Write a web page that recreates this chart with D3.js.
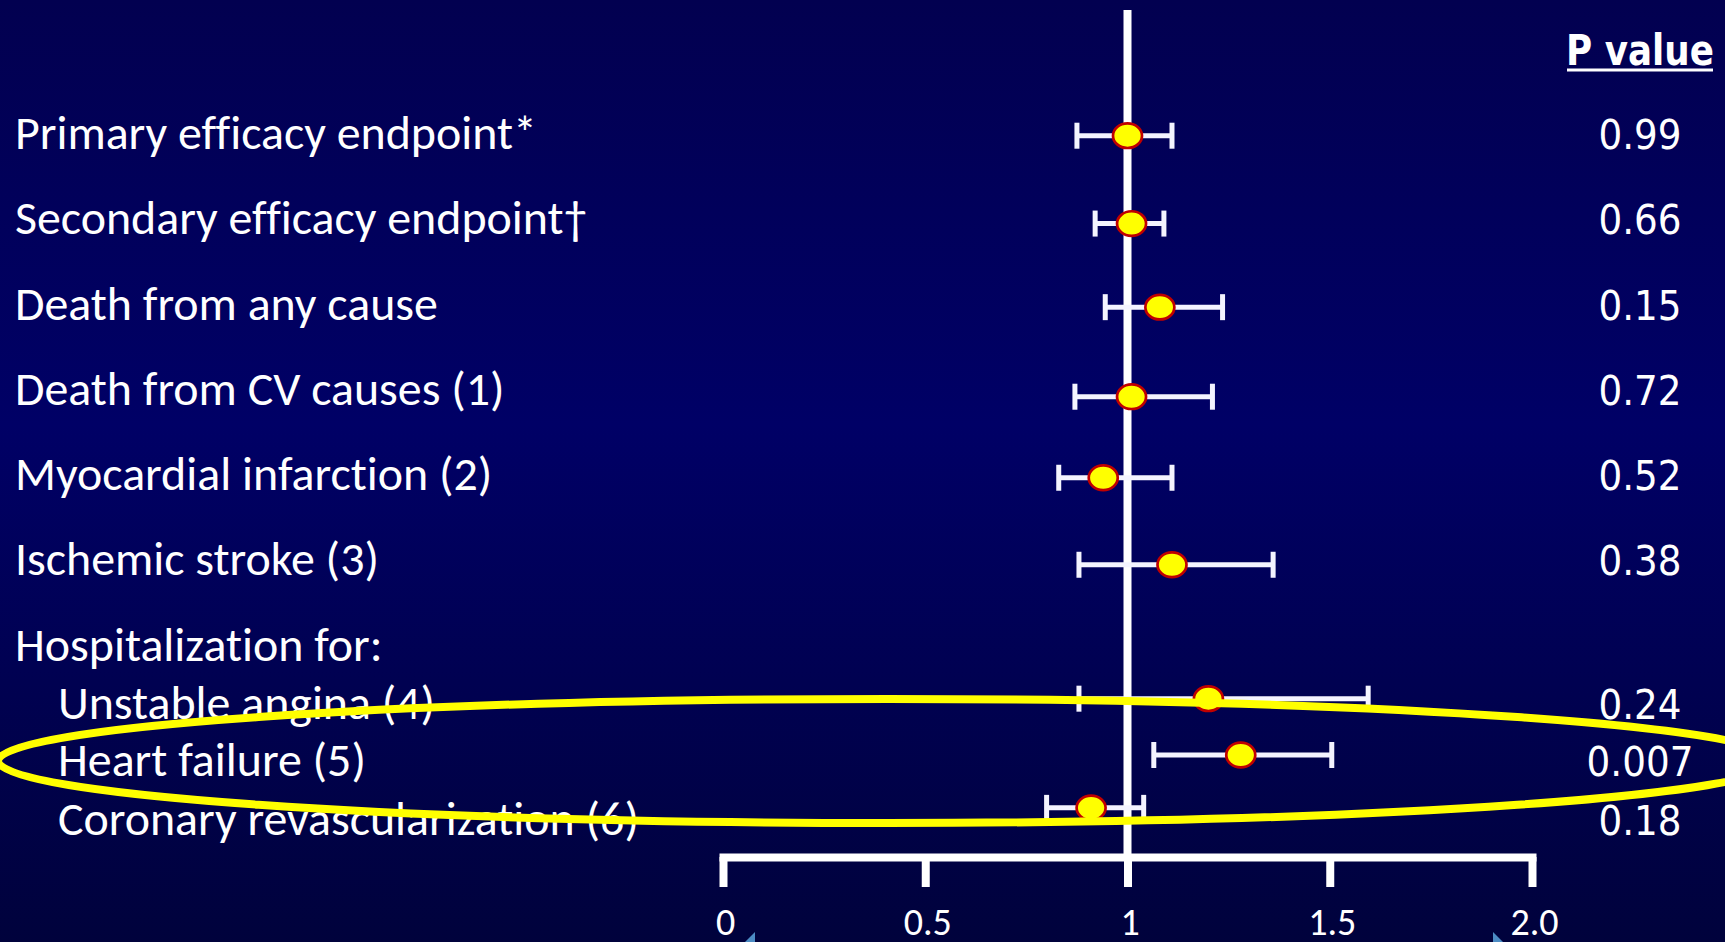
<!DOCTYPE html>
<html>
<head>
<meta charset="utf-8">
<script src="https://cdn.jsdelivr.net/npm/d3@7"></script>
<style>
  html, body { margin: 0; padding: 0; overflow: hidden; background: #000055; }
  svg { display: block; }
  text { font-variant-ligatures: none; }
</style>
</head>
<body>
<svg id="chart" width="1725" height="942"></svg>
<script>
// --- data ---
var labels = ["Primary efficacy endpoint*", "Secondary efficacy endpoint\u2020", "Death from any cause",
    "Death from CV causes (1)", "Myocardial infarction (2)", "Ischemic stroke (3)",
    "Unstable angina (4)", "Heart failure (5)", "Coronary revascularization (6)"];
var indented = [false, false, false, false, false, false, true, true, true];
var hazard = [1.00, 1.01, 1.08, 1.01, 0.94, 1.11, 1.20, 1.28, 0.91];
var lower  = [0.875, 0.92, 0.945, 0.87, 0.83, 0.88, 0.88, 1.065, 0.80];
var upper  = [1.11, 1.09, 1.235, 1.21, 1.11, 1.36, 1.595, 1.505, 1.04];
var pValues = ["0.99", "0.66", "0.15", "0.72", "0.52", "0.38", "0.24", "0.007", "0.18"];
var groupHeader = "Hospitalization for:";
var pHeader = "P value";
var xTicks = [0, 0.5, 1, 1.5, 2];
var xTickLabels = ["0", "0.5", "1", "1.5", "2.0"];
var highlighted = [6, 7, 8]; // rows circled in yellow

// row slots (layout): text rows and marker rows
var textSlot   = [0, 1, 2, 3, 4, 5, 6.68, 7.35, 8.04];
var markerSlot = [0.02, 1.05, 2.03, 3.08, 4.03, 5.05, 6.62, 7.28, 7.9];
var headerSlot = 6;

var rows = labels.map(function (d, i) {
    return {label: d, indent: indented[i], hr: hazard[i], lo: lower[i], hi: upper[i],
            p: pValues[i], ts: textSlot[i], ms: markerSlot[i]};
});

var svg = d3.select("#chart"),
    width = +svg.attr("width"),
    height = +svg.attr("height");

var labelFont = "Carlito, Calibri, 'Liberation Sans Narrow', 'Open Sans', sans-serif";
var pFont = "'DejaVu Sans', Verdana, sans-serif";

// background gradient
var defs = svg.append("defs");
var bg = defs.append("linearGradient").attr("id", "bg")
    .attr("x1", 0).attr("y1", 0).attr("x2", 0).attr("y2", 1);
bg.append("stop").attr("offset", "0%").attr("stop-color", "#020050");
bg.append("stop").attr("offset", "45%").attr("stop-color", "#000066");
bg.append("stop").attr("offset", "100%").attr("stop-color", "#00023c");
svg.append("rect").attr("width", width).attr("height", height).attr("fill", "url(#bg)");

// scales
var x = d3.scaleLinear().domain([0, 2]).range([723, 1532]);
var y = d3.scaleLinear().domain([0, 1]).range([134, 219.3]); // slot -> row centre
var axisY = 857;

// reference line at 1
svg.append("line")
    .attr("x1", x(1)).attr("x2", x(1))
    .attr("y1", 10).attr("y2", axisY)
    .attr("stroke", "#fff").attr("stroke-width", 8);

// x axis
var axis = svg.append("g")
    .attr("transform", "translate(0," + axisY + ")")
    .call(d3.axisBottom(x).tickValues(xTicks)
        .tickFormat(function (d, i) { return xTickLabels[i]; })
        .tickSize(30).tickSizeOuter(0));
axis.select(".domain").attr("stroke", "#fff").attr("stroke-width", 8)
    .attr("stroke-linecap", "square");
axis.selectAll(".tick line").attr("stroke", "#fff").attr("stroke-width", 8);
axis.selectAll(".tick text")
    .attr("fill", "#fff").attr("y", 78).attr("dy", 0).attr("x", 2)
    .style("font-family", labelFont).style("font-size", "38px");

// little slide decorations at the bottom edge
svg.append("path").attr("d", "M745,942L755,932L755,942Z").attr("fill", "#4c8cc4");
svg.append("path").attr("d", "M1493,932L1493,942L1503,942Z").attr("fill", "#4c8cc4");

// row labels
var labelG = svg.append("g");
labelG.selectAll("text.row").data(rows).enter().append("text")
    .attr("class", "row")
    .attr("x", function (d) { return d.indent ? 58 : 15; })
    .attr("y", function (d) { return y(d.ts) + 15; })
    .attr("fill", "#fff")
    .style("font-family", labelFont).style("font-size", "47px")
    .text(function (d) { return d.label; });
labelG.append("text")
    .attr("x", 15).attr("y", y(headerSlot) + 15)
    .attr("fill", "#fff")
    .style("font-family", labelFont).style("font-size", "47px")
    .text(groupHeader);
// squeeze labels horizontally if the fallback font is wider than Calibri
var w0 = labelG.select("text.row").node().getComputedTextLength();
var k = 522 / w0;
labelG.selectAll("text").each(function () {
    var t = d3.select(this);
    var x0 = +t.attr("x");
    t.attr("transform", "translate(" + x0 + ",0) scale(" + k + ",1) translate(" + (-x0) + ",0)");
});

// P value column
var pG = svg.append("g");
var pX = 1640;
pG.append("text")
    .attr("x", pX).attr("y", 65)
    .attr("text-anchor", "middle").attr("fill", "#fff")
    .attr("transform", "translate(" + pX + ",0) scale(0.85,1) translate(" + (-pX) + ",0)")
    .style("font-family", pFont).style("font-weight", "bold").style("font-size", "42px")
    .text(pHeader);
pG.append("line")
    .attr("x1", 1567).attr("x2", 1713).attr("y1", 70).attr("y2", 70)
    .attr("stroke", "#fff").attr("stroke-width", 3);
pG.selectAll("text.p").data(rows).enter().append("text")
    .attr("class", "p")
    .attr("x", pX).attr("y", function (d) { return y(d.ts) + 15; })
    .attr("text-anchor", "middle").attr("fill", "#fff")
    .attr("transform", "translate(" + pX + ",0) scale(0.91,1) translate(" + (-pX) + ",0)")
    .style("font-family", pFont).style("font-size", "41px")
    .text(function (d) { return d.p; });

// confidence intervals
var ci = svg.append("g").selectAll("g").data(rows).enter().append("g");
ci.append("line")
    .attr("x1", function (d) { return x(d.lo); })
    .attr("x2", function (d) { return x(d.hi); })
    .attr("y1", function (d) { return y(d.ms); })
    .attr("y2", function (d) { return y(d.ms); })
    .attr("stroke", "#f4f4ff").attr("stroke-width", 5);
ci.selectAll("line.cap")
    .data(function (d) { return [{v: d.lo, ms: d.ms}, {v: d.hi, ms: d.ms}]; })
    .enter().append("line")
    .attr("class", "cap")
    .attr("x1", function (d) { return x(d.v); })
    .attr("x2", function (d) { return x(d.v); })
    .attr("y1", function (d) { return y(d.ms) - 13; })
    .attr("y2", function (d) { return y(d.ms) + 13; })
    .attr("stroke", "#f4f4ff").attr("stroke-width", 5);

// point estimates
ci.append("ellipse")
    .attr("cx", function (d) { return x(d.hr); })
    .attr("cy", function (d) { return y(d.ms); })
    .attr("rx", 14.5).attr("ry", 12.3)
    .attr("fill", "#ffff00").attr("stroke", "#c00000").attr("stroke-width", 2.7);

// yellow highlight ring around the hospitalization rows
var mid = y(textSlot[highlighted[1]]);
svg.append("ellipse")
    .attr("cx", 888).attr("cy", mid)
    .attr("rx", 890).attr("ry", 62)
    .attr("fill", "none").attr("stroke", "#ffff00").attr("stroke-width", 8);
</script>
</body>
</html>
